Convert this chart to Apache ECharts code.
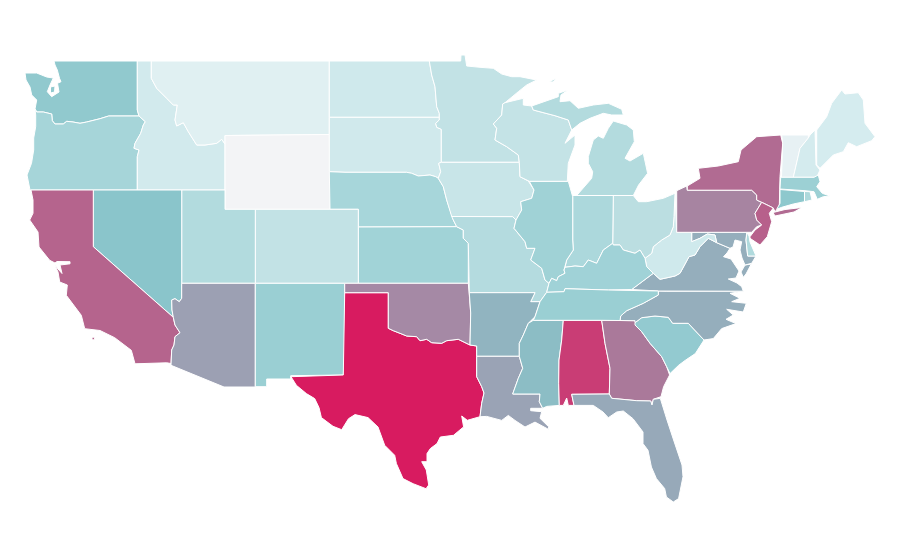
<!DOCTYPE html>
<html><head><meta charset="utf-8">
<style>html,body{margin:0;background:#fff}#c{width:900px;height:560px}</style>
<script src="https://cdn.jsdelivr.net/npm/echarts@6/dist/echarts.min.js"></script></head>
<body><div id="c"></div>
<script>
const stateNames=["Wyoming","Vermont","Montana","Maine","New Hampshire","Idaho","South Dakota","North Dakota","West Virginia","Iowa","Wisconsin","Colorado","Minnesota","Ohio","Missouri","Michigan","Utah","Delaware","Rhode Island","Indiana","Nebraska","Oregon","Kansas","Kentucky","Illinois","Massachusetts","New Mexico","Tennessee","South Carolina","Washington","Connecticut","Nevada","Mississippi","Arkansas","Virginia","Maryland","North Carolina","Florida","Louisiana","Arizona","Oklahoma","Pennsylvania","Georgia","New York","California","New Jersey","Alabama","Texas"];
const stateValues=[0,6,9.3,14.5,15,16,16.5,17,17,20,21.5,22.4,22.4,25.7,29,29.4,30,31,32,33,35.5,36,38.3,38.8,39,40.7,41.6,41.6,45,46,47,49,52.4,55.3,57.5,57.5,57.5,59,61,62,68.5,70,73,77,79,80,90,100];
const scaleColors=["#f3f4f6","#daeef1","#bcdfe2","#a3d4d8","#88c4ca","#9d9fb2","#ad7296","#c5457a","#d81b60"];
const outlines={
Washington:[[[54,61],[137.3,61],[137.3,110],[139,116],[108.7,116],[100,118.7],[92,120.7],[86.7,122],[80,123.3],[73,122],[66.7,121.3],[63.3,124],[55,124],[52.3,120.7],[51.7,114],[43.3,112],[36.7,112],[35,109],[36.7,100],[31.7,95],[30,87],[26,80],[25,73],[36.7,73],[46.7,77],[53.3,78],[50,85],[47.3,91.7],[51.7,96.7],[59,92],[57.5,83.3],[61,81.7],[59.5,78.3],[57.3,70],[55,65]],[[50.5,87],[55,86],[54.5,92],[50.5,93]]],
Oregon:[[[35,109],[36.7,112],[43.3,112],[51.7,114],[52.3,120.7],[55,124],[63.3,124],[66.7,121.3],[73,122],[80,123.3],[86.7,122],[92,120.7],[100,118.7],[108.7,116],[139,116],[145.3,121.7],[143.3,125],[140.7,133.3],[135,143.3],[134,148.3],[139,150],[137.3,156.7],[137.3,190],[30,190],[27,175],[31.5,163.3],[33.7,150],[33.7,138],[35.7,126.7],[35.7,115]]],
Idaho:[[[137.3,61],[151.3,61],[151.3,78.3],[156.7,88.3],[166.7,98.3],[173.3,105],[177.3,105],[175,120],[176.7,126],[183.3,122.7],[188.3,131.7],[196.7,145],[205,145],[216.7,143.3],[221.7,139.3],[225,144],[225,190],[137.3,190],[137.3,156.7],[139,150],[134,148.3],[135,143.3],[140.7,133.3],[143.3,125],[145.3,121.7],[139,116],[137.3,110]]],
Montana:[[[151.3,61],[329.3,61],[329.3,134.5],[225,135.5],[225,144],[221.7,139.3],[216.7,143.3],[205,145],[196.7,145],[188.3,131.7],[183.3,122.7],[176.7,126],[175,120],[177.3,105],[173.3,105],[166.7,98.3],[156.7,88.3],[151.3,78.3]]],
Wyoming:[[[225,135.5],[329.3,134.5],[330,209.3],[225,209.3]]],
"North Dakota":[[[329.3,61],[429.3,61],[431.7,75],[435,86.7],[436.7,106.7],[439.3,113.3],[439.3,117.3],[329.3,117.3]]],
"South Dakota":[[[329.3,117.3],[439.3,117.3],[439.3,120],[435.7,123.3],[436.7,127.3],[441.3,129.3],[441.3,162.3],[438.7,163.3],[440.7,171.7],[438.3,178.3],[435.7,176.7],[430,175],[418.3,176],[411.7,173.3],[406.7,172.3],[345,172.3],[329.3,171.7]]],
Nebraska:[[[329.3,171.7],[345,172.3],[406.7,172.3],[411.7,173.3],[418.3,176],[430,175],[435.7,176.7],[438.3,178.3],[443.3,186.7],[446.7,200],[450,210],[453.3,220],[456.7,226.7],[358.3,227],[358.3,209.3],[330,209.3]]],
Kansas:[[[358.3,227],[456.7,226.7],[463.3,230],[463.3,238.3],[468.3,243.3],[468.3,283.3],[358.3,283.3]]],
Colorado:[[[255.3,209.3],[358.3,209.3],[358.3,283.3],[255.3,283.3]]],
Utah:[[[181.7,190],[225,190],[225,209.3],[255.3,209.3],[255.3,283.3],[181.7,283.3]]],
Nevada:[[[93.3,190],[181.7,190],[181.7,298.3],[179.3,301.7],[175,298.7],[171.7,300],[172,310],[173.3,317.3],[93.3,246.7]]],
California:[[[31,190],[93.3,190],[93.3,246.7],[173.3,317.3],[175,325],[180,332.7],[175,336.7],[174,345],[171.7,350],[171,363.5],[166.7,362.8],[135,363.8],[131.3,350.3],[114.7,337.7],[100,330.5],[84.7,328.7],[81.3,315.3],[66.3,295.3],[67.3,285],[59.7,282],[58,272],[55,265.5],[62,273.5],[60,265],[70,263.8],[70,261.7],[57,261.5],[55,263],[49.7,260.3],[39,247],[38,232],[29.7,220],[33,213.3],[33,200]],[[92,337.2],[94.6,337.2],[94.6,339.8],[92,339.8]]],
Arizona:[[[181.7,283.3],[255.3,283.3],[255.3,387],[224,387],[171,365.3],[171.7,350],[174,345],[175,336.7],[180,332.7],[175,325],[173.3,317.3],[172,310],[171.7,300],[175,298.7],[179.3,301.7],[181.7,298.3]]],
"New Mexico":[[[255.3,283.3],[344.7,283.3],[344.7,343],[343.3,375],[290.7,375.7],[290.7,379],[266.7,379],[266.7,386.7],[255.3,386.7]]],
Texas:[[[344.7,292.7],[388.3,292.7],[388.3,328.3],[393.3,330.7],[400,333.3],[406.7,336],[416.7,336.7],[420,340.7],[426.7,339.3],[431.7,342.7],[441.7,343.3],[446.7,340.7],[458.3,339.3],[470,345],[476.7,346],[476.7,376.7],[481.7,386.7],[484,393],[481.7,403.3],[480,416.7],[467.3,420.3],[461.7,416],[463.6,426.9],[453.5,435.3],[440.3,437],[437,443.6],[430.3,448.6],[427,453.6],[427,461.7],[421.7,461.7],[426.3,470],[428.7,485],[426,488.7],[413.1,483.7],[403,478.6],[396.4,463.6],[394.7,455.3],[384.7,445.3],[378,427],[368,417.6],[355,414.6],[348.5,418.7],[341.7,429.7],[333,426.3],[321.4,417.6],[319,407.6],[314.7,398.6],[306.4,393.6],[296.4,385.3],[291,376.7],[290.7,375.7],[343.3,375]]],
Oklahoma:[[[344.7,283.3],[468.3,283.3],[469.3,295],[470.7,313],[470,345],[458.3,339.3],[446.7,340.7],[441.7,343.3],[431.7,342.7],[426.7,339.3],[420,340.7],[416.7,336.7],[406.7,336],[400,333.3],[393.3,330.7],[388.3,328.3],[388.3,292.7],[344.7,292.7]]],
Minnesota:[[[429.3,61],[460.7,61],[461,55],[465,55],[466.7,66],[480,67.3],[493.3,68.3],[501.7,74],[511.7,76.7],[520,76.7],[536.7,80],[526.7,85],[518.3,91.7],[505,102.7],[502.7,104],[501.7,115],[493.3,124],[496.7,128.3],[495,140],[506.7,146.7],[518.3,155],[519.3,162.3],[441.3,162.3],[441.3,129.3],[436.7,127.3],[435.7,123.3],[439.3,120],[439.3,113.3],[436.7,106.7],[435,86.7],[431.7,75]]],
Iowa:[[[441.3,162.3],[519.3,162.3],[520,176.7],[528.3,181],[534,190],[531.7,198.3],[520.7,201.7],[521.7,210],[516,220],[512.7,216.7],[451.7,216.5],[446.7,200],[443.3,186.7],[438.3,178.3],[440.7,171.7],[438.7,163.3]]],
Missouri:[[[451.7,216.5],[512.7,216.7],[516,220],[514,228.3],[525,241.7],[526.7,248.3],[535,248.3],[530.7,260],[541.7,268.3],[545,280],[549,283.3],[546.7,292.3],[540,301.7],[530.7,301.7],[535,292.7],[469.3,292.7],[468.3,243.3],[463.3,238.3],[463.3,230],[456.7,226.7],[453.3,220]]],
Arkansas:[[[469.3,292.7],[535,292.7],[530.7,301.7],[540,301.7],[535,316.7],[528.3,323.3],[523.3,335],[519.3,343.3],[519.3,356.3],[476.7,356.3],[476.7,346],[470,345],[470.7,313]]],
Louisiana:[[[476.7,356.3],[519.3,356.3],[522.7,368.3],[518.3,378.3],[512.7,394],[540,394],[539.3,401.7],[542.7,408.3],[530.7,408.3],[530.7,410.7],[541.7,411.7],[540,418.3],[548.6,426.7],[548.6,429.4],[535,422.1],[525,427],[515,420.4],[508.3,415.4],[501.7,420.4],[486.7,416.4],[480,416.7],[481.7,403.3],[484,393],[481.7,386.7],[476.7,376.7]]],
Mississippi:[[[533.3,320.3],[563.3,320.3],[561.7,340],[559,360],[558.7,383.3],[559.3,405.4],[546.7,406.4],[542.7,408.3],[539.3,401.7],[540,394],[512.7,394],[518.3,378.3],[522.7,368.3],[519.3,356.3],[519.3,343.3],[523.3,335],[528.3,323.3]]],
Alabama:[[[563.3,320.3],[601.7,320.3],[605,343.3],[610,368.3],[609.3,394],[571.7,394.3],[574,405.4],[568.3,405.4],[566.7,398],[563.3,405.4],[559.3,405.4],[558.7,383.3],[559,360],[561.7,340]]],
Georgia:[[[601.7,320.3],[635,320.7],[636.7,326.7],[641.7,331.7],[650,343.3],[661.7,356.7],[666.7,366.7],[669.6,375],[663.6,386.7],[661,396.7],[653.3,399.3],[652,405],[650.7,401],[636.7,400.7],[611.7,398.3],[609.3,394],[610,368.3],[605,343.3]]],
Florida:[[[571.7,394.3],[609.3,394],[611.7,398.3],[636.7,400.7],[650.7,401],[652,405],[653.3,399.3],[660.3,398.3],[667,420],[673.6,440],[682,465],[683,476.7],[678.6,498.6],[673.3,502],[666.4,497],[664.7,488.6],[656.4,478.6],[651.4,467],[648,450.3],[643,443.6],[643,432],[633,418.7],[623.3,411],[616.7,412],[608.3,417.7],[603,412],[593.3,405.4],[580,405.4],[574,405.4]]],
"South Carolina":[[[635,322.7],[641.7,317.7],[655,316],[668.3,317.3],[672.7,323.3],[688.3,323.3],[704,340],[695.3,353.6],[685.3,360.3],[678.6,365.3],[670,373.6],[666.7,366.7],[661.7,356.7],[650,343.3],[641.7,331.7],[635,325]]],
"North Carolina":[[[743.3,291.2],[666.7,291.2],[658.3,291],[658.3,295],[643.3,303.3],[626.7,310.7],[620.7,316],[620,320.5],[635,320.7],[635,322.7],[641.7,317.7],[655,316],[668.3,317.3],[672.7,323.3],[688.3,323.3],[704,340],[713.3,338.6],[721.7,328.6],[736,323.6],[726,319.3],[733.3,315],[726.7,309.3],[743.3,312],[746.3,303.3],[731.7,301.7],[740,298.3],[730,293.3]]],
Virginia:[[[631.7,289.5],[653.3,273.3],[660,279.3],[675,276],[680,273.3],[689,256.7],[695,255],[700,246.7],[708.3,238.3],[716.7,242.7],[730,248.3],[727,253],[723.5,256.7],[731,259],[735,265],[739,271],[736,278],[728.3,279],[737,283],[741.7,286.7],[743.3,291.2],[658.3,291]],[[745,265],[751.3,264],[746,274],[743.3,277.3],[741,272]]],
Maryland:[[[691.7,232.3],[746.7,232.3],[746,240],[747.7,256],[756,256],[751.7,263.3],[745,265],[742,258],[740,250],[741.7,241.7],[735,240],[733,247],[730,248.3],[716.7,242.7],[715,235],[707.3,234],[700,238.3],[691.7,241.7]]],
Delaware:[[[747,232.5],[749,236],[750,242],[756,256],[747.7,256],[746,240]]],
"West Virginia":[[[675,193.3],[676.7,232.3],[691.7,232.3],[691.7,241.7],[700,238.3],[707.3,234],[715,235],[716.7,242.7],[708.3,238.3],[700,246.7],[695,255],[689,256.7],[680,273.3],[675,276],[660,279.3],[653.3,273.3],[646.7,266.7],[645,258.3],[651.7,253.3],[653.3,246.7],[661.7,240],[670,235],[673.3,226.7],[674,216.7]]],
Ohio:[[[613.3,195.5],[633.3,195.5],[638.3,201.7],[646.7,201.7],[663.3,198.3],[675,193.3],[674,216.7],[673.3,226.7],[670,235],[661.7,240],[653.3,246.7],[651.7,253.3],[645,258.3],[640,250],[635,253.3],[623.3,250],[620,245],[613.3,245],[612.7,243.3]]],
Indiana:[[[572.7,195.5],[613.3,195.5],[612.7,243.3],[603.3,250],[596.7,263.3],[588.3,260],[583.3,266.7],[575,266],[565,267.3],[566.7,260],[573.3,250],[572.7,240]]],
Illinois:[[[529.3,181.3],[568.3,181.3],[572.7,196.7],[572.7,240],[573.3,250],[566.7,260],[564,270],[565,273.3],[558.3,276.7],[556.7,280.7],[551.7,278.3],[549,283.3],[545,280],[541.7,268.3],[530.7,260],[535,248.3],[526.7,248.3],[525,241.7],[514,228.3],[516,220],[521.7,210],[520.7,201.7],[531.7,198.3],[534,190]]],
Kentucky:[[[565,267.3],[575,266],[583.3,266.7],[588.3,260],[596.7,263.3],[603.3,250],[612.7,243.3],[613.3,245],[620,245],[623.3,250],[635,253.3],[640,250],[645,258.3],[646.7,266.7],[653.3,273.3],[631.7,289.5],[608.3,290],[565,288.7],[564,291.7],[546.7,292.3],[549,283.3],[551.7,278.3],[556.7,280.7],[558.3,276.7],[565,273.3],[564,270]]],
Tennessee:[[[546.7,292.3],[564,291.7],[565,288.7],[608.3,290],[658.3,291],[658.3,295],[643.3,303.3],[626.7,310.7],[620.7,316],[620,320.5],[601.7,320.3],[533.3,320.3],[535,316.7],[540,301.7]]],
Wisconsin:[[[502.7,104],[505,102.7],[523.3,98.3],[523.3,105],[531.7,106],[533.3,110],[555,115.7],[568.3,120],[571.7,130],[565,143.3],[575,135],[575,145],[568.3,163.3],[567.3,181.3],[529.3,181.3],[520,176.7],[519.3,162.3],[518.3,155],[506.7,146.7],[495,140],[496.7,128.3],[493.3,124],[501.7,115]]],
Michigan:[[[576.7,195.5],[591.7,178.3],[592.7,171.7],[588.3,163.3],[588.3,156.7],[593.3,140],[598.3,136],[603.3,138.3],[608.3,128.3],[613.3,121],[626.7,125],[633.3,130],[634.3,141.7],[625,158.3],[630,161],[643.3,153.3],[647.6,173.3],[638.6,185],[633.3,195.5]],[[531.7,106],[558.3,96.7],[558.3,93.3],[568,90],[561,95],[560,101.7],[570,100.7],[578.3,108.3],[593.3,105],[608.3,103.3],[621.7,109.3],[623.3,115],[611.7,115],[603.3,113.3],[590,118.3],[580,123.3],[571.7,130],[568.3,120],[555,115.7],[533.3,110]],[[549.3,81.7],[556,78.3],[553,82]]],
Pennsylvania:[[[676.7,190.7],[686.7,186],[687.3,190.2],[751.7,190.2],[756.7,195],[756.7,200],[761.7,202.3],[755,213.3],[756.7,220],[761.7,225],[756.7,226.7],[751.7,232.3],[676.7,232.3]]],
"New York":[[[687.3,186],[700,178.3],[698.3,168.3],[718.3,166],[738.3,161.7],[741,150],[756.7,136.7],[780.7,135],[782.7,143.3],[780,176.7],[779.3,206.7],[775,211.7],[773.3,208],[761.7,202.3],[756.7,200],[756.7,195],[751.7,190.2],[687.3,190.2]],[[773,212.5],[785,209.5],[802,207.5],[794,212],[775,216]]],
"New Jersey":[[[761.7,202.3],[773.3,208],[769.3,213.3],[771.7,221.7],[767.3,236.7],[760,245],[750,238.3],[750,236.7],[755,230],[761.7,225],[756.7,220],[755,213.3]]],
Vermont:[[[781.7,135],[808.3,135],[808.3,138],[800,148.3],[795,170],[793.3,177.3],[781.5,177.3],[782.7,143.3]]],
"New Hampshire":[[[810,135],[815,130],[816,165],[820,170],[816.7,177.3],[793.3,177.3],[795,170],[800,148.3],[808.3,138]]],
Maine:[[[816.7,130],[826.7,116.7],[831.7,103.3],[841.7,90],[845,94],[858.3,92.7],[863.3,100],[865,123.3],[875,136.7],[871.7,140.7],[856.7,146.7],[848.3,142.7],[843.3,151.7],[833.3,155],[820,168.3],[816.7,165]]],
Massachusetts:[[[780.7,177.3],[814,177.3],[818.3,175],[820,181.7],[816.7,186.7],[822.3,193.3],[830,196],[823.3,196.7],[817.3,199.3],[814,191.7],[805,190.7],[780,189]]],
Connecticut:[[[780,189.5],[804.5,191.5],[804.5,201.7],[793.3,204],[781.7,207.3],[776.7,209.3],[780,203.3]]],
"Rhode Island":[[[804.5,191.5],[810,191.7],[812,200],[804.5,201.7]]]
};
const geo={type:"FeatureCollection",features:Object.keys(outlines).map(n=>({type:"Feature",properties:{name:n},geometry:{type:"MultiPolygon",coordinates:outlines[n].map(r=>[r.map(p=>[p[0],560-p[1]])])}}))};
echarts.registerMap("USA",geo);
const chart=echarts.init(document.getElementById("c"),null,{renderer:"canvas"});
chart.setOption({backgroundColor:"#fff",animation:false,
visualMap:{show:false,min:0,max:100,inRange:{color:scaleColors}},
series:[{type:"map",map:"USA",roam:false,silent:true,aspectScale:1,boundingCoords:[[0,560],[900,0]],left:0,top:0,width:900,height:560,
label:{show:false},itemStyle:{borderColor:"#fff",borderWidth:1},
data:stateNames.map((n,i)=>({name:n,value:stateValues[i]}))}]});
</script></body></html>
